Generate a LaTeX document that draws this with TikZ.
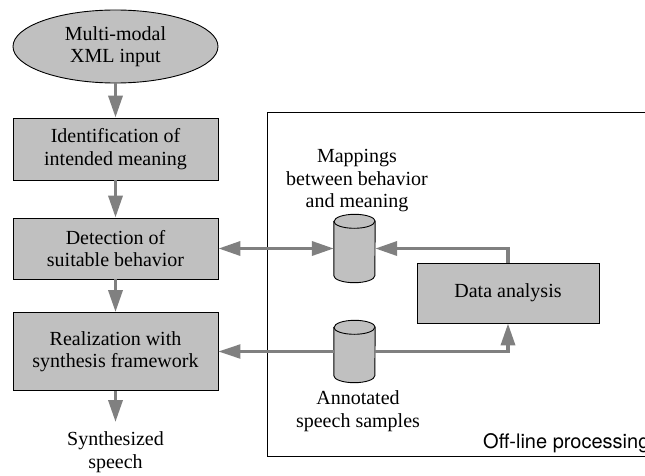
\documentclass[tikz,border=0pt]{standalone}
\usepackage{fontspec}
\newfontfamily\serifrm{Liberation Serif}
\newfontfamily\sanslab{TeX Gyre Heros}
\usetikzlibrary{arrows.meta,shapes.geometric}
\definecolor{boxgray}{RGB}{192,192,192}
\definecolor{arrgray}{RGB}{128,128,128}
\newcommand\dbcyl[1]{%
  \filldraw[fill=boxgray,draw=black,line width=0.9pt]
    ([yshift=-7pt]#1.north west) -- ([yshift=7pt]#1.south west)
    arc[start angle=180,end angle=360,x radius=20.5pt,y radius=7pt]
    -- ([yshift=-7pt]#1.north east)
    arc[start angle=0,end angle=180,x radius=20.5pt,y radius=7pt] -- cycle;
  \draw[line width=0.9pt] ([yshift=-7pt]#1.north west)
    arc[start angle=180,end angle=360,x radius=20.5pt,y radius=7pt];}
\tikzset{
  txt/.style={font=\serifrm\fontsize{20}{22.5}\selectfont, align=center, inner sep=0pt},
  procbox/.style={txt, draw=black, line width=0.9pt, fill=boxgray, minimum width=205pt},
  dbnode/.style={inner sep=0pt, minimum width=41pt},
  arr/.style={draw=arrgray, line width=3.5pt, -{Triangle[length=22pt,width=14pt]}},
  thinarr/.style={draw=arrgray, line width=2.3pt, -{Triangle[length=22pt,width=14pt]}},
  dblarr/.style={draw=arrgray, line width=3.5pt, {Triangle[length=22pt,width=14pt]}-{Triangle[length=22pt,width=14pt]}},
}
\begin{document}
\begin{tikzpicture}[x=1pt,y=1pt]
\clip (0,0) rectangle (645,475);
\fill[white] (0,0) rectangle (645,475);
% off-line frame
\draw[line width=0.9pt] (700,363) -- (267,363) -- (267,19) -- (700,19);
\node[font=\sanslab\fontsize{20}{22}\selectfont, anchor=base west, inner sep=0pt] (offl) at (483,27) {Off-line processing};
% left column
\node[txt, ellipse, draw=black, line width=0.9pt, fill=boxgray, minimum width=205pt, minimum height=73pt] (inp) at (115.5,428.5) {Multi-modal\\XML input};
\node[procbox, minimum height=62pt] (ident) at (115.5,326) {Identification of\\intended meaning};
\node[procbox, minimum height=61pt] (detect) at (115.5,226.5) {Detection of\\suitable behavior};
\node[procbox, minimum height=78pt] (real) at (115.5,123.5) {Realization with\\synthesis framework};
\coordinate (outend) at (115.5,53);
\node[txt] (synth) at (115.5,23) {Synthesized\\speech};
% right side
\node[dbnode, minimum height=68pt] (map) at (354.5,226.5) {};
\dbcyl{map}
\node[txt] (maptxt) at (357,294) {Mappings\\between behavior\\and meaning};
\node[dbnode, minimum height=62pt] (ann) at (354.5,123.5) {};
\dbcyl{ann}
\node[txt] (anntxt) at (358,64) {Annotated\\speech samples};
\node[procbox, minimum width=182pt, minimum height=60pt] (da) at (508,182) {Data analysis};
% connectors
\draw[arr] (inp) -- (ident);
\draw[arr] (ident) -- (detect);
\draw[arr] (detect) -- (real);
\draw[arr] (real) -- (outend);
\draw[dblarr] (detect.east) -- (map.west);
\draw[arr] (da.north) |- (map.east);
\draw[arr] (ann.east) -| (da.south);
\draw[thinarr] (ann.west) -- (real.east);
\end{tikzpicture}
\end{document}
